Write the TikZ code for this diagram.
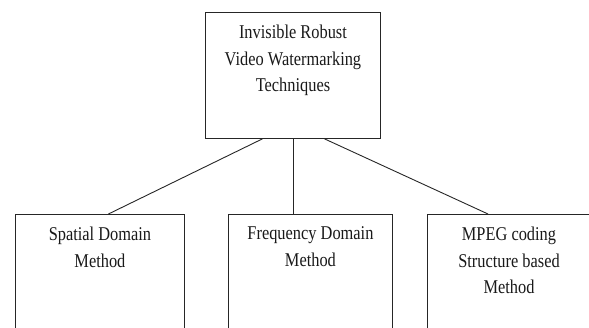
\documentclass[tikz,border=0pt]{standalone}
\usepackage{fontspec}
\setmainfont{Liberation Serif}[FakeStretch=0.84]
\usetikzlibrary{calc}
\begin{document}
\begin{tikzpicture}[x=1pt,y=-1pt,
  box/.style={draw=black!85, line width=0.9pt, rectangle, inner sep=0pt, anchor=north west},
  lbl/.style={align=center, inner sep=0pt, anchor=north, text=black!90,
    font=\fontsize{19.5}{26.8}\selectfont},
  conn/.style={draw=black!85, line width=0.9pt}]
\useasboundingbox (0,0) rectangle (589,328);
\clip (0,0) rectangle (589,328);
% boxes
\node[box, minimum width=175pt, minimum height=126pt] (top) at (205,12) {};
\node[box, minimum width=169pt, minimum height=130pt] (b1) at (15,214) {};
\node[box, minimum width=164pt, minimum height=130pt] (b2) at (228,214) {};
\node[box, minimum width=168pt, minimum height=130pt] (b3) at (427,214) {};
% labels
\node[lbl] (t0) at ($(top.north)+(0,12.5)$) {Invisible Robust\\Video Watermarking\\Techniques};
\node[lbl] (t1) at ($(b1.north)+(0,12.5)$) {Spatial Domain\\Method};
\node[lbl] (t2) at ($(b2.north)+(0,12.5)$) {Frequency Domain\\Method};
\node[lbl] (t3) at ($(b3.north west)+(82,12.5)$) {MPEG coding\\Structure based\\Method};
% connectors
\draw[conn] ($(top.south west)!0.326!(top.south east)$) -- ($(b1.north west)!0.55!(b1.north east)$);
\draw[conn] (top.south) -- (top.south |- b2.north);
\draw[conn] ($(top.south west)!0.68!(top.south east)$) -- ($(b3.north west)+(61,0)$);
\end{tikzpicture}
\end{document}
